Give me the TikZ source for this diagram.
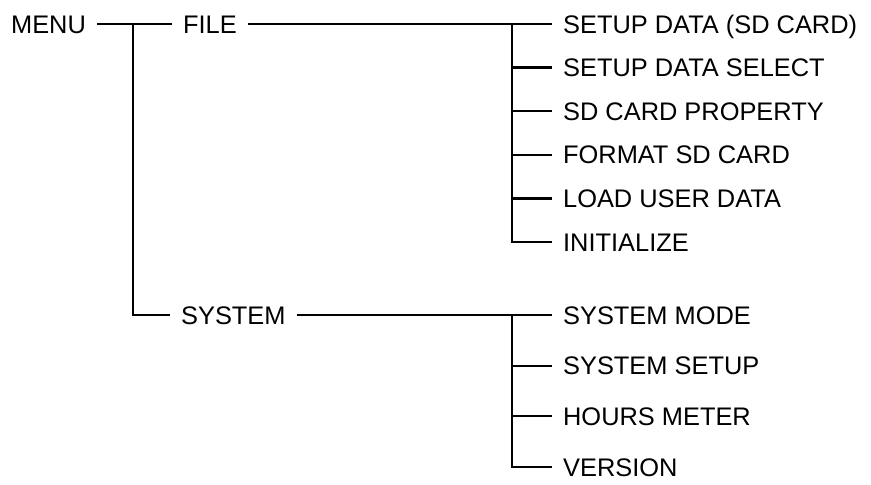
\documentclass[tikz,border=0pt]{standalone}
\usepackage{fontspec}
\setmainfont{Liberation Sans}
\usetikzlibrary{calc}

\begin{document}
\begin{tikzpicture}[x=1pt, y=-1pt, line width=2.3pt,
    % Define the style for the menu entries
    entry/.style={
        anchor=west, inner xsep=10pt, inner ysep=0pt,
        text height=18.2pt, text depth=0pt,
        font=\fontsize{25.4}{30}\selectfont
    }
]
\useasboundingbox (0,0) rectangle (871,485);

% Define the junction points
\coordinate (jm) at (133,24);
\coordinate (jf) at (512,24);
\coordinate (js) at (512,315);

% Place the entries
\node[entry] (menu) at (0,24) {MENU};
\node[entry] (file) at (172,24) {FILE};
\node[entry] (system) at (170,315) {SYSTEM};

\node[entry] (f1) at (552,24) {SETUP DATA (SD CARD)};
\node[entry] (f2) at (552,67.6) {SETUP DATA SELECT};
\node[entry] (f3) at (552,111.2) {SD CARD PROPERTY};
\node[entry] (f4) at (552,154.8) {FORMAT SD CARD};
\node[entry] (f5) at (552,198.4) {LOAD USER DATA};
\node[entry] (f6) at (552,242) {INITIALIZE};

\node[entry] (s1) at (552,315) {SYSTEM MODE};
\node[entry] (s2) at (552,365.7) {SYSTEM SETUP};
\node[entry] (s3) at (552,416.3) {HOURS METER};
\node[entry] (s4) at (552,467) {VERSION};

% Draw the main branches
\draw (menu) -- (file);
\draw (jm) |- (system);

% Draw the FILE branch
\draw (file) -- (f1);
\draw (jf) |- (f6);
\foreach \i in {2,...,5}
    \draw (f\i.west -| jf) -- (f\i);

% Draw the SYSTEM branch
\draw (system) -- (s1);
\draw (js) |- (s4);
\foreach \i in {2,3}
    \draw (s\i.west -| js) -- (s\i);

\end{tikzpicture}
\end{document}
